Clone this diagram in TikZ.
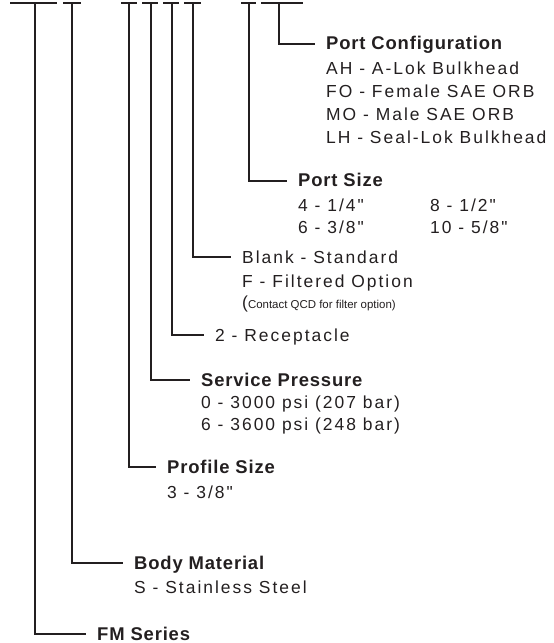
\documentclass[tikz,border=0pt]{standalone}
\usepackage{fontspec}
\setmainfont{Liberation Sans}[Ligatures=TeXOff, LetterSpace=11.5, BoldFeatures={LetterSpace=4.5}]
\newfontfamily\notefont{Liberation Sans}[Ligatures=TeXOff]
\usepackage{tikz}
\usetikzlibrary{positioning}

\definecolor{ink}{HTML}{231F20}

\tikzset{
  bar/.style={line width=2.4bp, draw=ink},
  leg/.style={line width=2.4bp, draw=ink, shorten >=11bp},
  head/.style={font=\fontsize{18.5}{23}\selectfont\bfseries, text=ink, inner sep=0pt, text height=12.5bp, text depth=0pt, anchor=base west},
  lead/.style={font=\fontsize{17.5}{23}\selectfont, text=ink, inner sep=0pt, text height=12bp, text depth=0pt, anchor=base west},
  opts/.style={font=\fontsize{17.5}{23}\selectfont, text=ink, inner sep=0pt, anchor=base west}
}

\begin{document}
\begin{tikzpicture}[x=1bp, y=-1bp]
  \useasboundingbox (0,0) rectangle (554,643);

  % code slots
  \foreach \l/\r in {10/57, 63/81, 121/137, 142/158, 163/179, 184/201, 241/256, 261/303}
    \draw[bar] (\l,3) -- (\r,3);

  \coordinate (fmtop) at (35,3);
  \coordinate (bodytop) at (72,3);
  \coordinate (proftop) at (129,3);
  \coordinate (prestop) at (151,3);
  \coordinate (rectop) at (172,3);
  \coordinate (filtop) at (193,3);
  \coordinate (sizetop) at (249,3);
  \coordinate (conftop) at (279,3);

  % headings
  \node[head] (conf) at (326,50) {Port Configuration};
  \node[below=25bp of conf.base west, opts] (confopt) {\begin{tabular}[t]{@{}l@{}}AH - A-Lok Bulkhead\\FO - Female SAE ORB\\MO - Male SAE ORB\\LH - Seal-Lok Bulkhead\end{tabular}};

  \node[head] (size) at (298,187) {Port Size};
  \node[below=24bp of size.base west, opts] (sizeopt) {\begin{tabular}[t]{@{}p{132bp}@{}l@{}}4 - 1/4"&8 - 1/2"\\6 - 3/8"&10 - 5/8"\end{tabular}};

  \node[lead] (fil) at (242,263) {Blank - Standard};
  \node[below=24bp of fil.base west, opts] (filopt) {F - Filtered Option};
  \node[below=21bp of filopt.base west, opts] (filnote) {(\notefont\fontsize{11.5}{13}\selectfont Contact QCD for filter option)};

  \node[lead] (rec) at (215,341) {2 - Receptacle};

  \node[head] (pres) at (201,386) {Service Pressure};
  \node[below=22bp of pres.base west, opts] (presopt) {\begin{tabular}[t]{@{}l@{}}0 - 3000 psi (207 bar)\\6 - 3600 psi (248 bar)\end{tabular}};

  \node[head] (prof) at (167,473) {Profile Size};
  \node[below=25bp of prof.base west, opts] (profopt) {3 - 3/8"};

  \node[head] (body) at (134,569) {Body Material};
  \node[below=24bp of body.base west, opts] (bodyopt) {S - Stainless Steel};

  \node[head] (fm) at (97,640) {FM Series};

  % legs
  \draw[leg] (conftop) |- (conf.west);
  \draw[leg] (sizetop) |- (size.west);
  \draw[leg] (filtop) |- (fil.west);
  \draw[leg] (rectop) |- (rec.west);
  \draw[leg] (prestop) |- (pres.west);
  \draw[leg] (proftop) |- (prof.west);
  \draw[leg] (bodytop) |- (body.west);
  \draw[leg] (fmtop) |- (fm.west);
\end{tikzpicture}
\end{document}
